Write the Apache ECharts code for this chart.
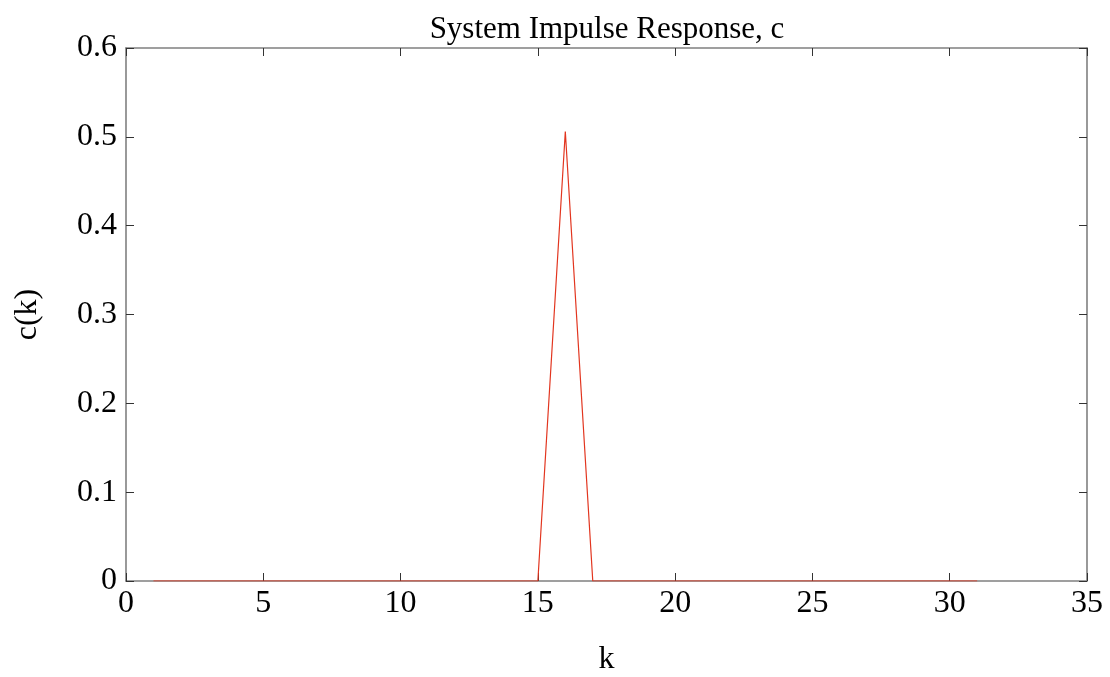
<!DOCTYPE html>
<html><head><meta charset="utf-8">
<script src="https://cdn.jsdelivr.net/npm/echarts@6/dist/echarts.min.js"></script>
<style>html,body{margin:0;padding:0;background:#fff}#c{width:1110px;height:677px}</style>
</head><body><div id="c"></div>
<script>
const kValues = [1,2,3,4,5,6,7,8,9,10,11,12,13,14,15,16,17,18,19,20,21,22,23,24,25,26,27,28,29,30,31];
const cValues = [0,0,0,0,0,0,0,0,0,0,0,0,0,0,0,0.506,0,0,0,0,0,0,0,0,0,0,0,0,0,0,0];
const titleText = 'System Impulse Response, c';
const xName = 'k';
const yName = 'c(k)';

const font = 'Liberation Serif, Times New Roman, serif';
const axisCol = '#808080';
const tickCol = '#333333';
const chart = echarts.init(document.getElementById('c'), null, {renderer:'canvas'});
const baseX = {
  type:'value', min:0, max:35, interval:5,
  axisLine:{show:true, onZero:false, lineStyle:{color:axisCol, width:1.6}},
  axisTick:{show:true, inside:true, length:8, lineStyle:{color:tickCol}},
  splitLine:{show:false}
};
const baseY = {
  type:'value', min:0, max:0.6, interval:0.1,
  axisLine:{show:true, onZero:false, lineStyle:{color:axisCol, width:1.6}},
  axisTick:{show:true, inside:true, length:8, lineStyle:{color:tickCol}},
  splitLine:{show:false}
};
chart.setOption({
  animation:false,
  backgroundColor:'#fff',
  title:{text:titleText, left:602, top:9, textAlign:'center',
    textStyle:{fontFamily:font, fontWeight:'normal', fontSize:31, color:'#000'}},
  grid:{left:126, right:23, top:48, bottom:96, containLabel:false, outerBoundsMode:'none'},
  xAxis:[
    Object.assign({}, baseX, {position:'bottom', name:xName, nameLocation:'middle', nameGap:63,
      nameTextStyle:{fontFamily:font, fontSize:32, color:'#000'},
      axisLabel:{fontFamily:font, fontSize:32, color:'#000', margin:7}}),
    Object.assign({}, baseX, {position:'top', axisLabel:{show:false}})
  ],
  yAxis:[
    Object.assign({}, baseY, {position:'left', name:yName, nameLocation:'middle', nameGap:82, nameRotate:90,
      nameTextStyle:{fontFamily:font, fontSize:32, color:'#000'},
      axisLabel:{fontFamily:font, fontSize:32, color:'#000', margin:9,
        formatter:v=>v===0?'0':v.toFixed(1)}}),
    Object.assign({}, baseY, {position:'right', axisLabel:{show:false}})
  ],
  series:[{
    type:'line', xAxisIndex:0, yAxisIndex:0,
    data:kValues.map((k,i)=>[k,cValues[i]]),
    showSymbol:false, symbol:'none',
    lineStyle:{color:'#e2351f', width:1.2},
    z:1
  }]
});
</script></body></html>
